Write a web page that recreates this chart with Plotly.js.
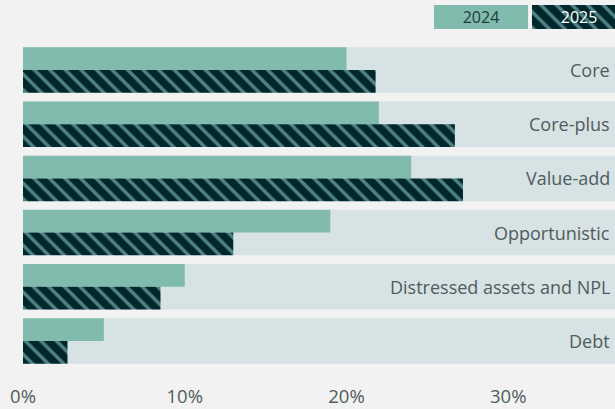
<!DOCTYPE html>
<html>
<head>
<meta charset="utf-8">
<script src="https://cdn.plot.ly/plotly-3.0.1.min.js"></script>
<style>
html,body{margin:0;padding:0;background:#f2f2f2;}
#chart{width:615px;height:409px;}
</style>
</head>
<body>
<div id="chart"></div>
<script>
const categories = ['Core', 'Core-plus', 'Value-add', 'Opportunistic', 'Distressed assets and NPL', 'Debt'];
const values2024 = [20.0, 22.0, 24.0, 19.0, 10.0, 5.0];
const values2025 = [21.8, 26.7, 27.2, 13.0, 8.5, 2.75];
const seriesNames = ['2024', '2025'];
const tickValues = [0, 10, 20, 30];
const tickLabels = ['0%', '10%', '20%', '30%'];
const axisMax = 36.6;

const C_BG = '#f2f2f2';
const C_ROW = '#d6e2e3';
const C_2024 = '#80bbad';
const C_DARK = '#00282a';
const C_STRIPE = '#4e8284';
const C_TEXT = '#4f5c5c';
const FONT = 'Open Sans, sans-serif';

const pattern2025 = {shape: '\\', bgcolor: C_DARK, fgcolor: C_STRIPE, size: 11, solidity: 0.32, fillmode: 'replace'};

const traces = [
  {
    type: 'bar', orientation: 'h', y: categories, x: categories.map(() => axisMax * 2),
    width: 0.84, marker: {color: C_ROW, line: {width: 0}}, hoverinfo: 'skip', showlegend: false,
    xaxis: 'x', yaxis: 'y'
  },
  {
    type: 'bar', orientation: 'h', name: seriesNames[0], y: categories, x: values2024,
    width: 0.42, offset: -0.42, marker: {color: C_2024, line: {width: 0}}, showlegend: false,
    xaxis: 'x', yaxis: 'y'
  },
  {
    type: 'bar', orientation: 'h', name: seriesNames[1], y: categories, x: values2025,
    width: 0.42, offset: 0, marker: {color: C_DARK, pattern: pattern2025, line: {width: 0}}, showlegend: false,
    xaxis: 'x', yaxis: 'y'
  },
  // legend boxes
  {
    type: 'bar', x: [0], y: [1], width: 0.96, text: [seriesNames[0]], textposition: 'inside',
    insidetextanchor: 'middle', constraintext: 'none', textangle: 0,
    textfont: {family: FONT, size: 16, color: '#1e3a3a'},
    marker: {color: C_2024, line: {width: 0}}, hoverinfo: 'skip', showlegend: false,
    xaxis: 'x2', yaxis: 'y2'
  },
  {
    type: 'bar', x: [1], y: [1], width: 0.96, text: [seriesNames[1]], textposition: 'inside',
    insidetextanchor: 'middle', constraintext: 'none', textangle: 0,
    textfont: {family: FONT, size: 16, color: '#ffffff'},
    marker: {color: C_DARK, pattern: pattern2025, line: {width: 0}}, hoverinfo: 'skip', showlegend: false,
    xaxis: 'x2', yaxis: 'y2'
  }
];

const annotations = categories.map(c => ({
  xref: 'paper', yref: 'y', x: 1, y: c, xanchor: 'right', yanchor: 'middle',
  xshift: -3, text: c, showarrow: false,
  font: {family: FONT, size: 18, color: C_TEXT}
}));

const layout = {
  width: 615, height: 409,
  margin: {l: 23, r: 0, t: 5, b: 41},
  paper_bgcolor: C_BG, plot_bgcolor: C_BG,
  barmode: 'overlay',
  showlegend: false,
  font: {family: FONT, color: C_TEXT},
  xaxis: {
    range: [0, axisMax], domain: [0, 1], tickvals: tickValues, ticktext: tickLabels,
    showgrid: false, zeroline: false, showline: false, ticks: '',
    ticklabelstandoff: 15,
    tickfont: {family: FONT, size: 18.5, color: C_TEXT}, fixedrange: true
  },
  yaxis: {
    type: 'category', range: [5.5, -0.5], domain: [0, 0.8953], visible: false, fixedrange: true
  },
  xaxis2: {
    anchor: 'y2', range: [-0.5, 1.367], domain: [0.6909, 1], visible: false, fixedrange: true
  },
  yaxis2: {
    anchor: 'x2', range: [0, 1], domain: [0.9339, 1], visible: false, fixedrange: true
  },
  annotations: annotations
};

Plotly.newPlot('chart', traces, layout, {displayModeBar: false, staticPlot: true});
</script>
</body>
</html>
